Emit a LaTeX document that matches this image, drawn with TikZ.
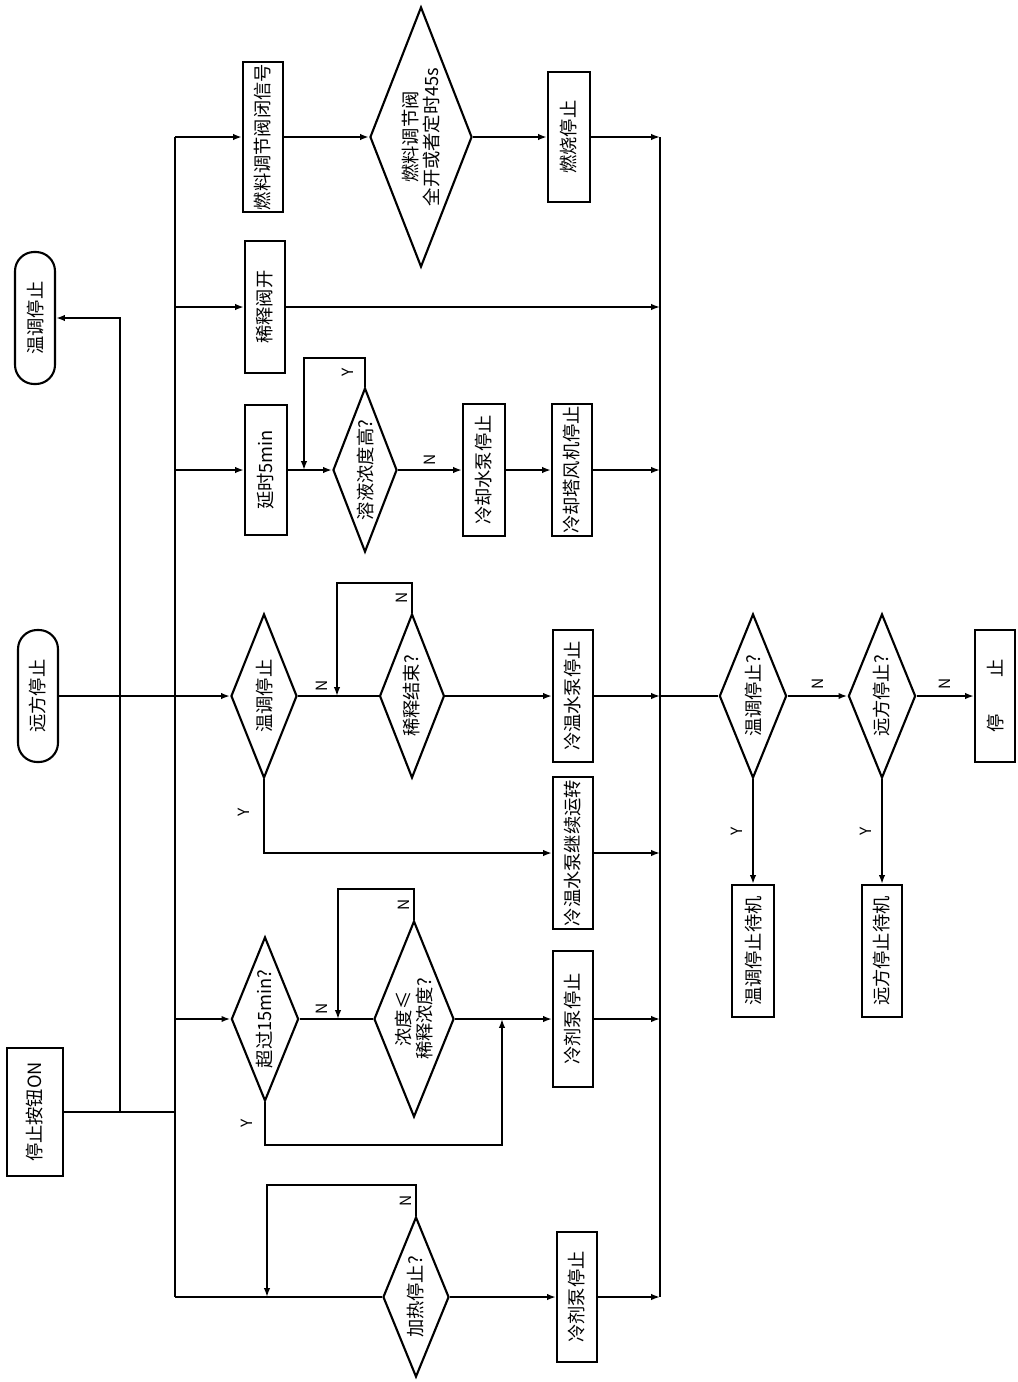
\documentclass[tikz,border=0pt]{standalone}
\usepackage{fontspec}
\setmainfont{Noto Sans CJK SC}
\usetikzlibrary{arrows.meta,shapes.geometric}

\begin{document}
\begin{tikzpicture}[x=0.025cm, y=-0.025cm,
        font=\fontsize{13}{15}\selectfont,
        line width=1.3pt,
        box/.style={draw, line width=1.5pt, rotate=90, minimum width=3.3cm, minimum height=1cm, inner sep=1pt, align=center},
        term/.style={box, rounded corners=0.48cm},
        cond/.style={draw, line width=1.5pt, diamond, shape aspect=2.5, rotate=90, inner sep=0pt, minimum width=4.1cm, minimum height=1.65cm, align=center},
        lab/.style={rotate=90, inner sep=0pt, font=\fontsize{11}{12}\selectfont},
        arrow/.style={-{Latex[length=2.2mm, width=1.6mm]}}
      ]
      \useasboundingbox (0,0) rectangle (1018,1382);
      \node[box, minimum width=3.2cm, minimum height=1.4cm] (btn) at (35,1112) {停止按钮ON};
      \node[term] (tstop) at (35,318) {温调停止};
      \node[term] (rstop) at (38,696) {远方停止};
      \node[box, minimum width=3.75cm] (sig) at (263,137) {燃料调节阀闭信号};
      \node[cond, minimum width=6.5cm, minimum height=2.55cm] (fuelq) at (421,137) {燃料调节阀\\全开或者定时45s};
      \node[box, minimum width=3.25cm, minimum height=1.05cm] (burn) at (569,137) {燃烧停止};
      \node[box] (dil) at (265,307) {稀释阀开};
      \node[box, minimum width=3.25cm, minimum height=1.05cm] (delay) at (266,470) {延时5min};
      \node[cond, minimum height=1.6cm] (concq) at (365,470) {溶液浓度高?};
      \node[box, minimum height=1.05cm] (cwp) at (484,470) {冷却水泵停止};
      \node[box] (fan) at (572,470) {冷却塔风机停止};
      \node[cond] (tq1) at (264,696) {温调停止};
      \node[cond, minimum height=1.62cm] (dilq) at (412,696) {稀释结束?};
      \node[box] (chw) at (573,696) {冷温水泵停止};
      \node[box, minimum width=3.8cm] (chwrun) at (573,853) {冷温水泵继续运转};
      \node[cond, minimum height=1.68cm] (overq) at (265,1019) {超过15min?};
      \node[cond, minimum width=4.9cm, minimum height=2cm] (leq) at (414,1019) {浓度≤\\稀释浓度?};
      \node[box, minimum width=3.4cm] (rp1) at (573,1019) {冷剂泵停止};
      \node[cond, minimum width=4cm] (heatq) at (416,1297) {加热停止?};
      \node[box, minimum width=3.25cm] (rp2) at (577,1297) {冷剂泵停止};
      \node[cond, minimum height=1.68cm] (tq2) at (753,696) {温调停止?};
      \node[cond, minimum height=1.68cm] (rq) at (882,696) {远方停止?};
      \node[box] (halt) at (995,696) {停\hspace{2em}止};
      \node[box, minimum height=1.05cm] (tstby) at (753,951) {温调停止待机};
      \node[box] (rstby) at (882,951) {远方停止待机};

      \coordinate (b1) at (175,137);
      \coordinate (b1g) at (175,1297);
      \coordinate (b2) at (660,137);
      \coordinate (b2g) at (660,1297);
      \coordinate (k) at (120,1112);
      \coordinate (lp1) at (304,358);
      \coordinate (lp2) at (337,583);
      \coordinate (lp3) at (338,889);
      \coordinate (lp4) at (502,1145);
      \coordinate (lp5) at (267,1185);

      \draw (b1) -- (b1g);
      \draw (b2) -- (b2g);
      \draw (btn) -- (btn -| b1);
      \draw[arrow] (k) |- (tstop);
      \draw[arrow] (rstop) -- (tq1);

      \draw[arrow] (b1) -- (sig);
      \draw[arrow] (sig) -- (fuelq);
      \draw[arrow] (fuelq) -- (burn);
      \draw[arrow] (burn) -- (b2);

      \draw[arrow] (b1 |- dil) -- (dil);
      \draw[arrow] (dil) -- (dil -| b2);

      \draw[arrow] (b1 |- delay) -- (delay);
      \draw[arrow] (delay) -- (concq);
      \draw[arrow] (concq.east) -- node[xshift=-0.42cm, lab] {Y} (concq.east |- lp1) -- (lp1) -- (lp1 |- delay);
      \draw[arrow] (concq) -- node[yshift=0.25cm, lab] {N} (cwp);
      \draw[arrow] (cwp) -- (fan);
      \draw[arrow] (fan) -- (fan -| b2);

      \draw (tq1) -- node[yshift=0.25cm, pos=0.3, lab] {N} (dilq);
      \draw[arrow] (dilq.east) -- node[xshift=-0.25cm, lab] {N} (dilq.east |- lp2) -- (lp2) -- (lp2 |- tq1);
      \draw[arrow] (dilq) -- (chw);
      \draw[arrow] (chw) -- (chw -| b2);
      \draw[arrow] (tq1.west) -- node[xshift=-0.5cm, pos=0.45, lab] {Y} (tq1.west |- chwrun) -- (chwrun);
      \draw[arrow] (chwrun) -- (chwrun -| b2);

      \draw[arrow] (b1 |- overq) -- (overq);
      \draw (overq) -- node[yshift=0.25cm, pos=0.3, lab] {N} (leq);
      \draw[arrow] (leq.east) -- node[xshift=-0.25cm, lab] {N} (leq.east |- lp3) -- (lp3) -- (lp3 |- overq);
      \draw[arrow] (leq) -- (rp1);
      \draw[arrow] (overq.west) -- node[xshift=-0.45cm, lab] {Y} (overq.west |- lp4) -- (lp4) -- (lp4 |- overq);
      \draw[arrow] (rp1) -- (rp1 -| b2);

      \draw (b1g) -- (heatq);
      \draw[arrow] (heatq.east) -- node[xshift=-0.25cm, lab] {N} (heatq.east |- lp5) -- (lp5) -- (lp5 |- heatq);
      \draw[arrow] (heatq) -- (rp2);
      \draw[arrow] (rp2) -- (b2g);

      \draw (b2 |- tq2) -- (tq2);
      \draw[arrow] (tq2) -- node[yshift=0.3cm, lab] {N} (rq);
      \draw[arrow] (rq) -- node[yshift=0.3cm, lab] {N} (halt);
      \draw[arrow] (tq2.west) -- node[xshift=-0.4cm, lab] {Y} (tstby);
      \draw[arrow] (rq.west) -- node[xshift=-0.4cm, lab] {Y} (rstby);
    \end{tikzpicture}
\end{document}
